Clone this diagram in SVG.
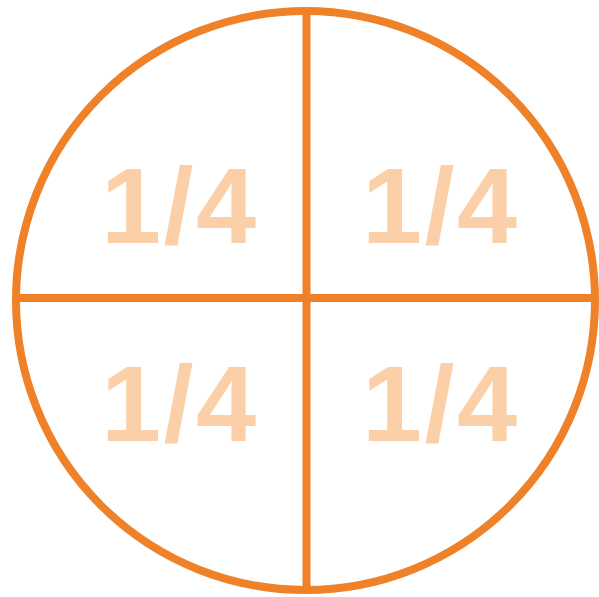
<svg xmlns="http://www.w3.org/2000/svg" width="599" height="597" viewBox="0 0 599 597">
<style>
.ln{stroke:#EF8229;stroke-width:8;fill:none}
.q{font-family:"Liberation Sans",Arial,sans-serif;font-weight:bold;font-size:108px;fill:#FBD0A8;text-anchor:middle}
</style>
<rect width="599" height="597" fill="#FFFFFF"/>
<g id="connectors">
<circle class="ln" cx="305.5" cy="300.5" r="289.5"/>
<line class="ln" x1="306.5" y1="11" x2="306.5" y2="590"/>
<line class="ln" x1="16" y1="298" x2="595" y2="298"/>
</g>
<g id="q1"><text class="q" x="178.5" y="243" textLength="155" lengthAdjust="spacing">1/4</text></g>
<g id="q2"><text class="q" x="439.5" y="243" textLength="155" lengthAdjust="spacing">1/4</text></g>
<g id="q3"><text class="q" x="178.5" y="441" textLength="155" lengthAdjust="spacing">1/4</text></g>
<g id="q4"><text class="q" x="439.5" y="441" textLength="155" lengthAdjust="spacing">1/4</text></g>
</svg>
